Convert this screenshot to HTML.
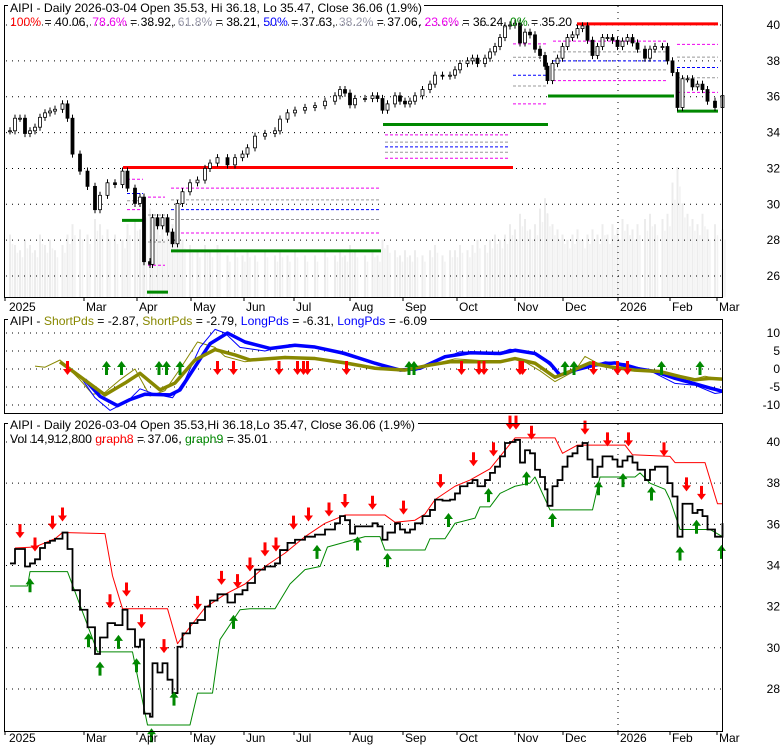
<!DOCTYPE html>
<html><head><meta charset="utf-8"><style>
body{margin:0;background:#fff}
svg{display:block;font-family:"Liberation Sans",sans-serif}
</style></head><body>
<svg id="c" width="780" height="745" viewBox="0 0 780 745">
<rect width="780" height="745" fill="#fff"/>
<g id="vol"></g>
<g id="grid"></g>
<g id="fib"></g>
<g id="candles"></g>
<g id="mid"></g>
<g id="bot"></g>
<g id="frames">
<rect x="4.5" y="5.5" width="718" height="292" fill="none" stroke="#000"/>
<rect x="4.5" y="319.5" width="718" height="94" fill="none" stroke="#000"/>
<rect x="4.5" y="423.5" width="718" height="308" fill="none" stroke="#000"/>
</g>
<g id="axes" font-size="12"></g>
<g font-size="12">
<rect x="8" y="0" width="416" height="14" fill="#fff"/>
<text x="10" y="12" textLength="412" lengthAdjust="spacingAndGlyphs">AIPI - Daily 2026-03-04 Open 35.53, Hi 36.18, Lo 35.47, Close 36.06 (1.9%)</text>
<text x="10" y="26" textLength="562" lengthAdjust="spacingAndGlyphs"><tspan fill="#f00">100%</tspan> = 40.06, <tspan fill="#e0e">78.6%</tspan> = 38.92, <tspan fill="#99a">61.8%</tspan> = 38.21, <tspan fill="#00f">50%</tspan> = 37.63, <tspan fill="#99a">38.2%</tspan> = 37.06, <tspan fill="#e0e">23.6%</tspan> = 36.24, <tspan fill="#080">0%</tspan> = 35.20</text>
<rect x="8" y="314" width="422" height="13" fill="#fff"/>
<text x="10" y="325" textLength="417" lengthAdjust="spacingAndGlyphs">AIPI - <tspan fill="#880">ShortPds</tspan> = -2.87, <tspan fill="#880">ShortPds</tspan> = -2.79, <tspan fill="#00f">LongPds</tspan> = -6.31, <tspan fill="#00f">LongPds</tspan> = -6.09</text>
<rect x="8" y="418" width="410" height="13" fill="#fff"/>
<text x="10" y="429" textLength="405" lengthAdjust="spacingAndGlyphs">AIPI - Daily 2026-03-04 Open 35.53,Hi 36.18,Lo 35.47, Close 36.06 (1.9%)</text>
<text x="10" y="443" textLength="258" lengthAdjust="spacingAndGlyphs">Vol 14,912,800 <tspan fill="#f00">graph8</tspan> = 37.06, <tspan fill="#080">graph9</tspan> = 35.01</text>
</g>
</svg>
<script>
const days=[1,2,3,4,5,6,7,8,9,10,11.5,12.5,13.5,15,16.5,18,19,20.5,22,23.5,24.5,26,27,27.8,29,29.5,30.5,31.5,32.5,33.5,34.5,35.5,37,38.5,40,41,42.5,44.5,46,47.5,48.5,50,52,54,55,56.5,58,60,62,64,66,67,68,69,70,72,73.5,74.5,75.5,76.5,78,79,80,81,82,83.5,85,86,87.5,89,90,91,92.5,93.5,94.5,96,97,98,99,100,101,102,103,104,105,106,107,108,108.5,109.5,110.5,111.5,112.5,113.5,114.5,115.5,116.5,117.5,118.5,119.5,120.5,121.5,122.5,123.5,124.5,125.5,126.5,128,129,130,131.5,132.5,133.5,134.5,135.5,136.5,137.5,138.5,139.5,140.5,142,143.5];
const closes=[34.1,34.8,34.8,33.95,34.1,34.3,34.85,35.1,35.2,35.3,35.6,34.8,32.8,31.85,31.0,29.7,30.5,31.2,31.1,31.85,30.9,30.05,30.4,26.8,26.65,29.25,28.8,29.25,28.45,27.8,30.05,30.7,31.2,31.35,32.0,32.3,32.6,32.2,32.6,32.8,33.15,33.8,33.95,34.1,34.75,35.1,35.25,35.4,35.5,35.75,36.05,36.4,36.2,35.55,35.9,35.9,36.05,35.9,35.25,35.6,36.05,35.75,35.6,35.75,36.05,36.4,36.7,37.2,37.15,37.2,37.5,37.85,38.0,38.15,37.85,38.15,38.5,38.8,39.3,39.95,40.0,40.1,39.0,39.6,39.45,38.65,38.3,37.7,36.9,37.85,38.15,38.8,39.3,39.45,39.8,39.95,39.15,38.3,38.8,39.3,39.3,39.15,38.8,39.1,39.3,39.0,38.65,38.15,38.65,38.8,38.8,38.0,37.35,35.4,37.0,37.0,36.55,36.7,36.4,35.75,35.4,36.06];
const volumes=[12,10,9,11,10,9,12,10,11,9,10,12,14,13,12,15,14,13,12,11,14,15,13,18,17,16,14,13,15,14,12,11,10,9,10,9,10,8,9,8,9,8,9,8,9,8,9,8,8,9,8,9,8,10,9,8,9,8,11,10,9,8,9,8,9,8,9,10,8,9,9,10,9,10,11,10,11,12,11,12,14,13,16,15,13,14,17,19,16,14,13,12,11,12,13,11,12,13,12,14,12,14,13,15,14,13,14,15,16,14,15,16,22,25,18,16,15,14,16,13,14,13];
const shortDays=[11,15,20,24,27,31,34,38,42,46,49,56,62,68,74,80,85,89,95,99,102,106,110,113,117,121,126,131,135,138,141,143.5];
const shortVals=[2,-2.1,-7.2,-3.9,-1.2,-5.8,-3.9,2.5,5.4,3.9,2.5,3.2,2.9,1.7,0.2,-0.3,1.1,2,2,2,2.9,1.6,-2.3,-0.7,1.7,0.6,-0.3,-0.7,-2.1,-3.0,-2.6,-2.8];
const longDays=[16,19,22.5,25,28,33,35,38,41,44.5,48,53,58,62,68,74,79,83,88,93,99,102,106,109,111,114,118,122,126,130,134,138,141,143.5];
const longVals=[-3,-7.6,-10.2,-8.5,-7,-7.2,-5.8,0.6,7,10,7.5,5.7,6.6,6.1,4.3,1.6,-0.3,0.2,3.4,4.5,4.3,5.2,4.3,1.6,-1.7,-0.3,1.1,1.7,0.2,-0.7,-2.6,-4.1,-5.3,-6.2];
const thinShortDays=[6,8,11,15,17.5,20,23,26,29,32,35,38.5,42,44,48,56,64,72,80,86,90,99,103,107,110,114,116,120,126,131,136,140,143.5];
const thinShortVals=[0.8,0.5,2.5,-3,-7,-6.5,-3,0,-7.5,-6,0,7.5,6,3.5,2,3.5,2.5,0.8,-0.5,1.5,2.8,2,2.8,-0.5,-3.5,-0.5,3.5,0.5,-0.3,-1,-3.5,-2,-3];
const thinLongDays=[15,18,21,24.5,27,30,33.5,36,39,42,44,47,52,57,63,70,76,82,86,91,98,101,106,109,111,115,120,124,129,134,138,142,143.5];
const thinLongVals=[-2,-8,-11.5,-9,-5.5,-7,-8,-3,6,11,10,6,5,6.8,6,3,0.5,-0.5,2,4.8,4,5.5,4.5,1,-2,0,2,1.5,-0.5,-4,-4.5,-6.8,-6.5];
const midDownDays=[12.5,42.5,45.7,54.8,58.5,59.7,60.5,68.3,91.3,94.8,95.8,103,103.5,117.7,122.5,124.5];
const midUpDays=[20.3,23.3,30.8,32.3,35,80.8,81.8,112,113.8,131.3,139];
const redStopDays=[2,6,10,11.5,20,21.5,23.5,32.5,34.5,36,40,44,48,52,56,60,64,68,76,78,82,84,86,90,93,97,99,102,110,111.5,114.5,124,125.5,133,134,140,141.5,142.5,143.5];
const redStopVals=[34.85,34.9,35.3,35.6,35.55,33.5,31.9,31.9,30.2,30.7,31.95,32.6,33.1,33.95,34.6,35.4,36.05,36.45,36.45,36.1,36.2,36.5,37.2,37.85,38.15,38.7,39.3,40.2,40.2,39.45,39.85,39.85,39.38,39.3,39.0,39.0,37.8,37.0,37.0];
const greenStopDays=[1,4.5,5,12.5,18.5,25.5,28.5,37,38.5,41.5,43,47,49,54,57,60,63,64.5,72,75,76,84,85,88,90,94,95,97,99,102,105,106,109,117.5,119,126,127,129,132,133,135,141,143.5];
const greenStopVals=[33.0,33.0,33.7,33.7,29.8,29.8,26.25,26.25,27.8,27.8,30.4,31.85,31.9,31.9,33.1,33.8,33.95,34.9,35.4,35.4,34.75,34.75,35.3,35.3,36.05,36.3,36.85,36.85,37.5,37.85,38.0,38.3,36.7,36.7,38.3,38.3,38.5,38.0,37.7,37.2,35.75,35.75,35.4];
const sellDays=[3,6,9.5,11.5,21,24.3,27.3,31.8,38.5,43.3,46.5,49,52,54.2,57.7,60.7,64.8,68,73.5,79.7,87.1,93.7,97.7,101,102.2,105.3,116,120.5,124.7,131.8,136.3,139.3];
const sellPrices=[35.33,34.68,35.74,36.14,31.92,32.49,30.95,29.74,31.84,33.06,32.9,33.71,34.44,34.68,35.74,36.14,36.38,36.79,36.71,36.47,37.76,38.82,39.3,40.6,40.6,40.11,40.36,39.79,39.79,39.3,37.6,37.19];
const buyDays=[5,16.7,19,22.7,26.3,29.3,33.8,45.7,62.4,70.5,76.5,88.7,96.7,104.3,109.5,118.7,123.6,129.3,135,138.3,143.3];
const buyPrices=[33.38,30.71,29.33,30.63,29.49,26.09,27.87,31.6,35.0,35.41,34.6,36.55,37.76,38.57,36.55,38.09,38.49,37.84,34.92,36.22,35.0];
const topTicks=[26,28,30,32,34,36,38,40];
const midTicks=[-10,-5,0,5,10];
const botTicks=[28,30,32,34,36,38,40];
const monthLabels=['2025','Mar','Apr','May','Jun','Jul','Aug','Sep','Oct','Nov','Dec','2026','Feb','Mar'];
const monthDays=[0,15.8,26.4,37.2,47.8,57.8,69,79.6,90.4,102,111.6,122.6,133,142.4];

const NS='http://www.w3.org/2000/svg';
function el(tag,attrs,parent){const e=document.createElementNS(NS,tag);for(const k in attrs)e.setAttribute(k,attrs[k]);parent.appendChild(e);return e;}
const X=d=>5+d*5;
const yT=p=>25+(40-p)*17.93;
const yM=v=>369-v*3.6;
const yB=p=>442+(40-p)*20.58;
const G=id=>document.getElementById(id);

// volume
days.forEach((d,i)=>{const h=volumes[i]*5.2;
const r=el('rect',{x:X(d)-1,y:297-h,width:2,height:h,fill:'#ececec'},G('vol'));


const r2=el('rect',{x:X(d)+1.7,y:297-h*0.85,width:1.5,height:h*0.85,fill:'#f2f2f2'},G('vol'));

});

// grid
function hgrid(y,x1,x2){const l=el('line',{x1:x1,x2:x2,y1:y,y2:y,stroke:'#000','stroke-dasharray':'1,5'},G('grid'));

}
topTicks.forEach(t=>hgrid(yT(t),6,722));
midTicks.forEach(t=>hgrid(yM(t),6,722));
botTicks.forEach(t=>hgrid(yB(t),6,722));
[[6,297],[320,413],[424,731]].forEach(r=>{const l=el('line',{x1:X(122.6),x2:X(122.6),y1:r[0],y2:r[1],stroke:'#000','stroke-dasharray':'1,5'},G('grid'));

});

// axes labels
const ax=G('axes');
function lab(txt,x,y,anchor){const t=el('text',{x:x,y:y,'text-anchor':anchor||'end'},ax);t.textContent=txt;

}
topTicks.forEach(t=>lab(String(t),780,yT(t)+4));
midTicks.forEach(t=>lab(String(t),780,yM(t)+4));
botTicks.forEach(t=>lab(String(t),780,yB(t)+4));
monthLabels.forEach((m,i)=>{const x=X(monthDays[i]);lab(m,x+(i==0?4:2),311,'start');lab(m,x+(i==0?4:2),742,'start');
[297,731].forEach(y=>{const k=el('line',{x1:x,x2:x,y1:y,y2:y+4,stroke:'#000'},ax);

});});

// fib levels [x1day,x2day,price,color,width,dash]
const fibLevels=[[23.6,101.6,32.05,'#f00',3,''],[23.4,28,29.1,'#080',3,''],[28.4,32.6,25.1,'#080',3,''],[33.2,75.2,27.4,'#080',3,''],
[33.2,75,30.9,'#e0e',1,'3,2'],[33.2,75,30.25,'#999',1,'3,2'],[33.2,75,29.7,'#00f',1,'3,2'],[33.2,75,29.15,'#999',1,'3,2'],[33.2,75,28.4,'#e0e',1,'3,2'],
[24.4,27.6,31.4,'#e0e',1,'3,2'],[24.4,27.6,30.6,'#00f',1,'3,2'],[24.4,27.6,30.2,'#999',1,'3,2'],[24.4,27.6,29.7,'#e0e',1,'3,2'],
[28.6,32,30.4,'#e0e',1,'3,2'],[28.6,32,29.4,'#999',1,'3,2'],[28.6,32,27.9,'#999',1,'3,2'],[28.6,32,26.6,'#e0e',1,'3,2'],
[75.6,108.6,34.45,'#080',3,''],
[76,100.6,33.87,'#e0e',1,'3,2'],[76,100.6,33.47,'#999',1,'3,2'],[76,100.6,33.2,'#00f',1,'3,2'],[76,100.6,32.9,'#999',1,'3,2'],[76,100.6,32.57,'#e0e',1,'3,2'],
[114.4,142.6,40.06,'#f00',3,''],[108.6,133.8,36.04,'#080',3,''],[134.4,142.6,35.2,'#080',3,''],
[134.4,142.6,38.92,'#e0e',1,'3,2'],[134.4,142.6,38.21,'#999',1,'3,2'],[134.4,142.6,37.63,'#00f',1,'3,2'],[134.4,142.6,37.06,'#999',1,'3,2'],[134.4,142.6,36.24,'#e0e',1,'3,2'],
[109.6,132.6,39.1,'#e0e',1,'3,2'],[109.6,132.6,38.5,'#999',1,'3,2'],[109.6,132.6,38.0,'#00f',1,'3,2'],[109.6,132.6,37.5,'#999',1,'3,2'],[109.6,132.6,36.9,'#e0e',1,'3,2'],
[101.6,108.6,38.95,'#e0e',1,'3,2'],[101.6,108.6,38.2,'#999',1,'3,2'],[101.6,108.6,37.2,'#00f',1,'3,2'],[101.6,108.6,36.6,'#999',1,'3,2'],[101.6,108.6,35.6,'#e0e',1,'3,2']];
fibLevels.forEach(f=>{const y=yT(f[2]);const l=el('line',{x1:X(f[0]),x2:X(f[1]),y1:y,y2:y,stroke:f[3],'stroke-width':f[4]},G('fib'));if(f[5])l.setAttribute('stroke-dasharray',f[5]);

});

// candles
closes.forEach((c,i)=>{const o=i?closes[i-1]:c;const x=X(days[i]);const hi=Math.max(o,c)+0.2,lo=Math.min(o,c)-0.2;
const w=el('line',{x1:x,x2:x,y1:yT(hi),y2:yT(lo),stroke:'#000'},G('candles'));


const t=Math.min(yT(o),yT(c)),h=Math.max(1,Math.abs(yT(o)-yT(c)));
const b=el('rect',{x:x-1.5,y:t,width:3,height:h,fill:c>=o?'#fff':'#000',stroke:'#000','stroke-width':0.8},G('candles'));

});

// middle lines
function poly(ds,vs,yf,color,w,parent,name){const pts=ds.map((d,i)=>X(d)+','+yf(vs[i])).join(' ');
const p=el('polyline',{points:pts,fill:'none',stroke:color,'stroke-width':w,'stroke-linejoin':'round'},parent);

return p;}
const mid=G('mid');
poly(thinShortDays,thinShortVals,yM,'#880',1,mid,'short-pds-thin');
poly(thinLongDays,thinLongVals,yM,'#00f',1,mid,'long-pds-thin');
poly(longDays,longVals,yM,'#00f',3.5,mid,'long-pds-line');
poly(shortDays,shortVals,yM,'#880',3.5,mid,'short-pds-line');

function arrow(parent,x,tip,down,color,name){const len=14,hw=4.5,hh=6;let d;
if(down){d=`M${x-1.5},${tip-len}H${x+1.5}V${tip-hh}H${x+hw}L${x},${tip}L${x-hw},${tip-hh}H${x-1.5}Z`;}
else{d=`M${x-1.5},${tip+len}H${x+1.5}V${tip+hh}H${x+hw}L${x},${tip}L${x-hw},${tip+hh}H${x-1.5}Z`;}
const p=el('path',{d:d,fill:color},parent);

}
midDownDays.forEach(d=>arrow(mid,X(d),375,true,'#f00','sell-arrow'));
midUpDays.forEach(d=>arrow(mid,X(d),361,false,'#080','buy-arrow'));

// bottom panel
const bot=G('bot');
poly(redStopDays,redStopVals,yB,'#f00',1,bot,'graph8-line');
poly(greenStopDays,greenStopVals,yB,'#080',1,bot,'graph9-line');
let sp='M'+X(days[0])+','+yB(closes[0]);
for(let i=1;i<days.length;i++){sp+=' H'+X(days[i])+' V'+yB(closes[i]);}
const sl=el('path',{d:sp,fill:'none',stroke:'#000','stroke-width':1.8},bot);


sellDays.forEach((d,i)=>arrow(bot,X(d),yB(sellPrices[i]),true,'#f00','sell-arrow'));
buyDays.forEach((d,i)=>arrow(bot,X(d),yB(buyPrices[i]),false,'#080','buy-arrow'));
</script>
</body></html>
